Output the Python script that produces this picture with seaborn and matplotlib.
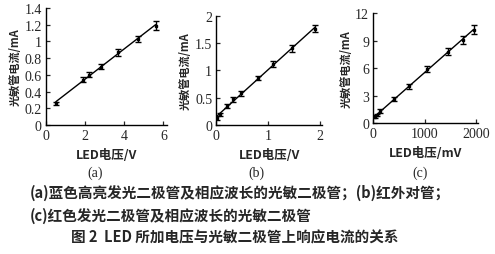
import numpy as np
import pandas as pd
import seaborn as sns
import matplotlib
matplotlib.use("Agg")
import matplotlib.pyplot as plt

sns.set_style("ticks")
plt.rcParams['font.family'] = ['Noto Sans CJK SC', 'DejaVu Sans']

# Panel (a)
a_x = [0.5, 1.9, 2.2, 2.8, 3.7, 4.7, 5.6]
a_y = [0.26, 0.54, 0.60, 0.70, 0.87, 1.03, 1.19]
a_err = [0.02, 0.03, 0.03, 0.03, 0.04, 0.04, 0.05]
# Panel (b)
b_x = [0.02, 0.08, 0.20, 0.33, 0.48, 0.80, 1.10, 1.45, 1.90]
b_y = [0.13, 0.20, 0.35, 0.47, 0.58, 0.86, 1.12, 1.40, 1.76]
b_err = [0.03, 0.03, 0.03, 0.04, 0.04, 0.04, 0.05, 0.06, 0.06]
# Panel (c)
c_x = [30, 80, 130, 400, 700, 1050, 1450, 1750, 1950]
c_y = [0.7, 0.9, 1.3, 2.6, 4.0, 5.9, 7.8, 9.1, 10.2]
c_err = [0.15, 0.15, 0.2, 0.2, 0.25, 0.3, 0.35, 0.45, 0.45]

panels = [
    dict(x=a_x, y=a_y, e=a_err, xlim=(0, 6.2), ylim=(0, 1.4), xt=[0, 2, 4, 6], xtl=['0', '2', '4', '6'],
         yt=[0, 0.2, 0.4, 0.6, 0.8, 1.0, 1.2, 1.4], ytl=['0', '0.2', '0.4', '0.6', '0.8', '1', '1.2', '1.4'],
         xlabel='LED电压/V', tag='(a)', tagpos=(95, 173), rect=[0.093, 0.505, 0.245, 0.46]),
    dict(x=b_x, y=b_y, e=b_err, xlim=(0, 2.04), ylim=(0, 2), xt=[0, 1, 2], xtl=['0', '1', '2'],
         yt=[0, 0.5, 1, 1.5, 2], ytl=['0', '0.5', '1', '1.5', '2'],
         xlabel='LED电压/V', tag='(b)', tagpos=(256, 173), rect=[0.437, 0.505, 0.214, 0.43]),
    dict(x=c_x, y=c_y, e=c_err, xlim=(0, 2040), ylim=(0, 12), xt=[0, 1000, 2000], xtl=['0', '1000', '2000'],
         yt=[0, 3, 6, 9, 12], ytl=['0', '3', '6', '9', '12'],
         xlabel='LED电压/mV', tag='(c)', tagpos=(420, 173), rect=[0.754, 0.513, 0.212, 0.432]),
]

W, H = 495, 255
fig = plt.figure(figsize=(W / 100, H / 100), dpi=100)
serif = ['Liberation Serif', 'DejaVu Serif']
for p in panels:
    ax = fig.add_axes(p['rect'])
    df = pd.DataFrame({'x': p['x'], 'y': p['y']})
    sns.regplot(data=df, x='x', y='y', ax=ax, ci=None, scatter=False, truncate=True,
                line_kws=dict(color='black', lw=1.0))
    ax.errorbar(p['x'], p['y'], yerr=p['e'], fmt='s', color='black', ms=2.0,
                elinewidth=1.0, capsize=2.2, capthick=1.0)
    ax.set_xlim(*p['xlim'])
    ax.set_ylim(*p['ylim'])
    ax.set_xticks(p['xt'])
    ax.set_xticklabels(p['xtl'], family=serif, fontsize=10)
    ax.set_yticks(p['yt'])
    ax.set_yticklabels(p['ytl'], family=serif, fontsize=10)
    ax.tick_params(direction='in', length=3, width=0.9, pad=3)
    sns.despine(ax=ax)
    for s in ['left', 'bottom']:
        ax.spines[s].set_linewidth(1.0)
        ax.spines[s].set_color('black')
    ax.set_xlabel(p['xlabel'], fontsize=9, fontweight='bold', labelpad=4)
    ax.set_ylabel('光敏管电流/mA', fontsize=8, fontweight='bold', labelpad=2)
    tx, ty = p['tagpos']
    fig.text(tx / W, 1 - ty / H, p['tag'], ha='center', va='center',
             fontsize=10, family=serif)

fig.text(30 / W, 1 - 193 / H, '(a)蓝色高亮发光二极管及相应波长的光敏二极管；(b)红外对管；',
         fontsize=10.5, fontweight='bold', va='center', ha='left')
fig.text(30 / W, 1 - 216 / H, '(c)红色发光二极管及相应波长的光敏二极管',
         fontsize=10.5, fontweight='bold', va='center', ha='left')
fig.text(235 / W, 1 - 237 / H, '图 2  LED 所加电压与光敏二极管上响应电流的关系',
         fontsize=10.5, fontweight='bold', va='center', ha='center')

fig.savefig('out.png', dpi=100)
